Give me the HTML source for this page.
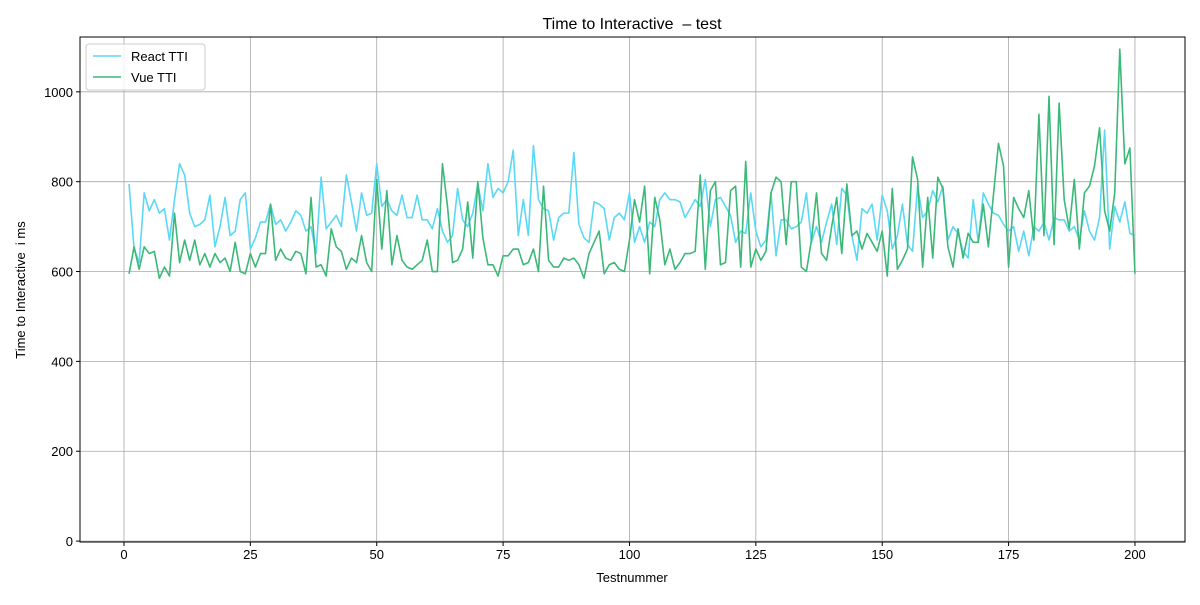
<!DOCTYPE html>
<html><head><meta charset="utf-8"><style>
body{margin:0;background:#fff;font-family:"Liberation Sans","DejaVu Sans",sans-serif;}
svg text{font-family:"Liberation Sans","DejaVu Sans",sans-serif;}
</style></head><body>
<svg id="chart" width="1200" height="600" xmlns="http://www.w3.org/2000/svg">
<rect width="1200" height="600" fill="#fff"/>
<g id="grid"></g>
<g id="series"></g>
<rect x="80" y="37" width="1105" height="505" fill="none" stroke="#000" stroke-width="1"/>
<g id="axes"></g>
<text x="632" y="29" font-size="16" text-anchor="middle">Time to Interactive&#160; – test</text>
<text x="632" y="582" font-size="13" text-anchor="middle">Testnummer</text>
<text transform="translate(25,290) rotate(-90)" font-size="13" text-anchor="middle">Time to Interactive&#160; i ms</text>
<g>
<rect x="86" y="44" width="119" height="46" rx="3" fill="#fff" fill-opacity="0.8" stroke="#ccc"/>
<line x1="93" y1="56" x2="121" y2="56" stroke="#5bd8f5" stroke-width="1.6"/>
<text x="131" y="61" font-size="13">React TTI</text>
<line x1="93" y1="77" x2="121" y2="77" stroke="#3cb878" stroke-width="1.6"/>
<text x="131" y="82" font-size="13">Vue TTI</text>
</g>
</svg>
<script>
const xTicks=[0,25,50,75,100,125,150,175,200];
const yTicks=[0,200,400,600,800,1000];
const reactTTI=[795,650,620,775,735,760,730,740,670,760,840,815,730,700,705,715,770,655,700,765,680,690,760,775,650,675,710,710,750,705,715,690,710,735,725,690,700,640,810,695,710,725,700,815,755,690,775,725,730,840,745,760,735,725,770,720,720,770,715,715,695,740,690,665,680,785,715,700,730,795,735,840,765,785,775,800,870,680,760,680,880,760,740,735,670,720,730,730,865,705,675,665,755,750,740,670,720,730,715,775,665,700,665,710,700,760,775,760,760,755,720,740,760,745,805,700,760,765,745,725,665,690,685,775,690,655,670,775,635,715,715,695,700,710,775,665,700,665,710,750,660,785,770,680,625,740,730,750,670,770,735,650,680,750,660,645,790,720,735,780,755,790,670,700,685,645,630,760,665,775,750,730,725,705,690,700,645,690,635,700,690,710,670,720,715,715,690,700,670,735,690,670,720,915,650,745,710,755,685,680];
const vueTTI=[595,655,605,655,640,645,585,610,590,730,620,670,625,670,615,640,610,640,620,630,600,665,600,595,640,610,640,640,750,625,650,630,625,645,640,595,765,610,615,590,695,655,645,605,630,620,680,620,600,805,650,780,615,680,625,610,605,615,625,670,600,600,840,745,620,625,650,755,630,800,675,615,615,590,635,635,650,650,615,620,650,600,790,625,610,610,630,625,630,615,585,640,665,690,595,615,620,605,600,670,760,710,790,595,765,715,615,650,605,620,640,640,645,815,605,780,800,615,620,780,790,610,845,610,650,625,645,775,810,800,660,800,800,610,600,670,775,640,625,700,765,640,795,680,690,650,685,665,645,690,590,785,605,625,650,855,805,610,765,630,810,785,655,610,695,630,685,665,665,750,655,770,885,835,610,765,740,720,780,670,950,680,990,660,975,760,695,805,650,775,790,835,920,735,690,775,1095,840,875,595];
const NS='http://www.w3.org/2000/svg';
const X0=80,X1=1185,Y0=37,Y1=542;
const xMin=-8.7,xMax=209.9,yMin=-2,yMax=1122;
const xs=v=>X0+(v-xMin)/(xMax-xMin)*(X1-X0);
const ys=v=>Y1-(v-yMin)/(yMax-yMin)*(Y1-Y0);
const grid=document.getElementById('grid'),axes=document.getElementById('axes'),ser=document.getElementById('series');
function mk(t,a,p){const e=document.createElementNS(NS,t);for(const k in a)e.setAttribute(k,a[k]);p.appendChild(e);return e;}
xTicks.forEach(t=>{const x=xs(t);
const g=mk('line',{x1:x,x2:x,y1:Y0,y2:Y1,stroke:'#a8a8a8','stroke-width':0.8},grid);


mk('line',{x1:x,x2:x,y1:Y1,y2:Y1+4,stroke:'#000'},axes);
const tx=mk('text',{x:x,y:Y1+17,'font-size':13,'text-anchor':'middle'},axes);tx.textContent=t;

});
yTicks.forEach(t=>{const y=ys(t);
const g=mk('line',{x1:X0,x2:X1,y1:y,y2:y,stroke:'#a8a8a8','stroke-width':0.8},grid);


mk('line',{x1:X0-4,x2:X0,y1:y,y2:y,stroke:'#000'},axes);
const tx=mk('text',{x:X0-7,y:y+5,'font-size':13,'text-anchor':'end'},axes);tx.textContent=t;

});
function line(data,color,name){const d=data.map((v,i)=>(i?'L':'M')+xs(i+1).toFixed(2)+','+ys(v).toFixed(2)).join('');
const p=mk('path',{d:d,fill:'none',stroke:color,'stroke-width':1.6,'stroke-linejoin':'round'},ser);

}
line(reactTTI,'#5bd8f5','react-tti-line');
line(vueTTI,'#3cb878','vue-tti-line');
</script>
</body></html>
